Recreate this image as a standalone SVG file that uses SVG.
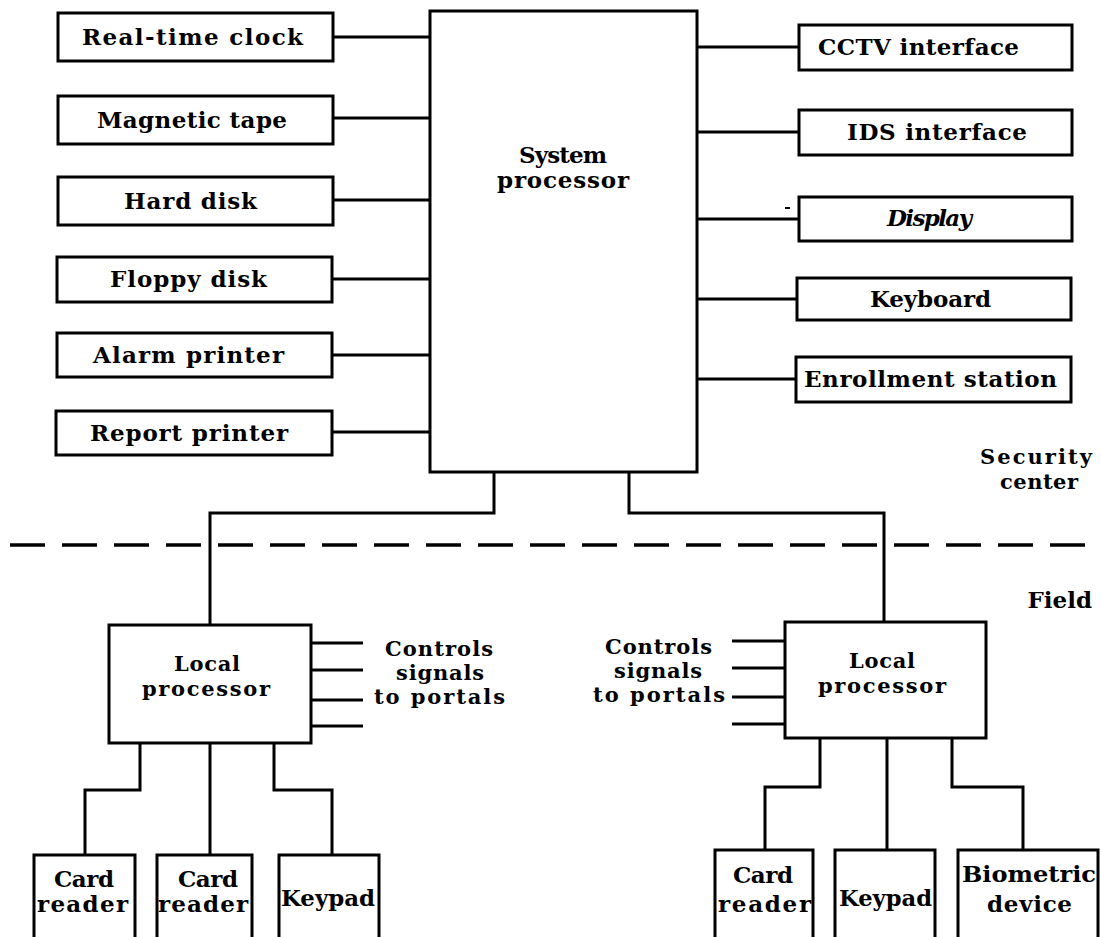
<svg xmlns="http://www.w3.org/2000/svg" width="1101" height="937" viewBox="0 0 1101 937">
<style>
.box{fill:#fff;stroke:#000;stroke-width:3}
.ln{fill:none;stroke:#000;stroke-width:3}
.t{font-family:"DejaVu Serif","Liberation Serif",serif;font-weight:bold;font-size:23px;fill:#000}
.s{font-size:21px}
</style>
<rect width="1101" height="937" fill="#fff"/>
<g id="connectors">
<path class="ln" d="M333 37H430M333 118H430M333 200H430M333 279H430M333 355H430M333 432H430"/>
<path class="ln" d="M697 47H799M697 132H799M697 219H799M697 299H799M697 379H799"/>
<path d="M785 208h5" stroke="#000" stroke-width="2"/>
<path class="ln" d="M494 472V513H210V625M629 472V513H884V622"/>
<path class="ln" d="M311 643H363M311 670H363M311 700H363M311 726H363"/>
<path class="ln" d="M732 641H785M732 668H785M732 697H785M732 724H785"/>
<path class="ln" d="M140 743V790H85V855M210 743V855M274 743V790H332V855"/>
<path class="ln" d="M820 738V787H765V850M887 738V850M952 738V787H1023V850"/>
<line x1="10" y1="545" x2="1101" y2="545" stroke="#000" stroke-width="3.5" stroke-dasharray="35 17"/>
</g>
<g id="system-processor"><rect class="box" x="430" y="11" width="267" height="461"/>
<text class="t" x="519" y="163" textLength="88" lengthAdjust="spacing">System</text><text class="t" x="497" y="188" textLength="132" lengthAdjust="spacing">processor</text></g>
<g id="real-time-clock"><rect class="box" x="58" y="13" width="275" height="48"/><text class="t" x="82" y="45" textLength="221" lengthAdjust="spacing">Real-time clock</text></g>
<g id="magnetic-tape"><rect class="box" x="58" y="96" width="275" height="48"/><text class="t" x="97" y="128" textLength="190" lengthAdjust="spacing">Magnetic tape</text></g>
<g id="hard-disk"><rect class="box" x="58" y="177" width="275" height="48"/><text class="t" x="124" y="209" textLength="133" lengthAdjust="spacing">Hard disk</text></g>
<g id="floppy-disk"><rect class="box" x="57" y="257" width="275" height="45"/><text class="t" x="110" y="287" textLength="157" lengthAdjust="spacing">Floppy disk</text></g>
<g id="alarm-printer"><rect class="box" x="57" y="333" width="275" height="44"/><text class="t" x="93" y="363" textLength="191" lengthAdjust="spacing">Alarm printer</text></g>
<g id="report-printer"><rect class="box" x="56" y="411" width="276" height="44"/><text class="t" x="90" y="441" textLength="198" lengthAdjust="spacing">Report printer</text></g>
<g id="cctv-interface"><rect class="box" x="799" y="25" width="273" height="45"/><text class="t" x="818" y="55" textLength="201" lengthAdjust="spacing">CCTV interface</text></g>
<g id="ids-interface"><rect class="box" x="799" y="110" width="273" height="45"/><text class="t" x="847" y="140" textLength="180" lengthAdjust="spacing">IDS interface</text></g>
<g id="display"><rect class="box" x="799" y="197" width="273" height="44"/><text class="t" x="887" y="226" textLength="85" lengthAdjust="spacing" font-style="italic">Display</text></g>
<g id="keyboard"><rect class="box" x="797" y="278" width="274" height="42"/><text class="t" x="870" y="307" textLength="121" lengthAdjust="spacing">Keyboard</text></g>
<g id="enrollment-station"><rect class="box" x="796" y="357" width="275" height="45"/><text class="t" x="804" y="387" textLength="253" lengthAdjust="spacing">Enrollment station</text></g>
<g id="zone-labels">
<text class="t s" x="980" y="464" textLength="112" lengthAdjust="spacing">Security</text><text class="t s" x="1000" y="489" textLength="78" lengthAdjust="spacing">center</text>
<text class="t" x="1092" y="608" text-anchor="end">Field</text>
</g>
<g id="local-processor-left"><rect class="box" x="109" y="625" width="202" height="118"/>
<text class="t s" x="174" y="671" textLength="66" lengthAdjust="spacing">Local</text><text class="t s" x="142" y="696" textLength="128" lengthAdjust="spacing">processor</text></g>
<g id="controls-left">
<text class="t s" x="385" y="656" textLength="108" lengthAdjust="spacing">Controls</text><text class="t s" x="396" y="680" textLength="88" lengthAdjust="spacing">signals</text><text class="t s" x="374" y="704" textLength="131" lengthAdjust="spacing">to portals</text></g>
<g id="local-processor-right"><rect class="box" x="785" y="622" width="201" height="116"/>
<text class="t s" x="849" y="668" textLength="66" lengthAdjust="spacing">Local</text><text class="t s" x="818" y="693" textLength="128" lengthAdjust="spacing">processor</text></g>
<g id="controls-right">
<text class="t s" x="605" y="654" textLength="107" lengthAdjust="spacing">Controls</text><text class="t s" x="614" y="678" textLength="88" lengthAdjust="spacing">signals</text><text class="t s" x="593" y="702" textLength="132" lengthAdjust="spacing">to portals</text></g>
<g id="card-reader-1"><rect class="box" x="34" y="855" width="101" height="84"/><text class="t" x="54" y="887" textLength="60" lengthAdjust="spacing">Card</text><text class="t" x="37" y="912" textLength="91" lengthAdjust="spacing">reader</text></g>
<g id="card-reader-2"><rect class="box" x="157" y="855" width="95" height="84"/><text class="t" x="178" y="887" textLength="60" lengthAdjust="spacing">Card</text><text class="t" x="158" y="912" textLength="90" lengthAdjust="spacing">reader</text></g>
<g id="keypad-left"><rect class="box" x="279" y="855" width="100" height="84"/><text class="t" x="281" y="906" textLength="94" lengthAdjust="spacingAndGlyphs">Keypad</text></g>
<g id="card-reader-3"><rect class="box" x="715" y="850" width="98" height="89"/><text class="t" x="733" y="883" textLength="60" lengthAdjust="spacing">Card</text><text class="t" x="718" y="912" textLength="93" lengthAdjust="spacing">reader</text></g>
<g id="keypad-right"><rect class="box" x="835" y="850" width="100" height="89"/><text class="t" x="839" y="906" textLength="93" lengthAdjust="spacingAndGlyphs">Keypad</text></g>
<g id="biometric-device"><rect class="box" x="958" y="850" width="140" height="89"/><text class="t" x="962" y="882" textLength="134" lengthAdjust="spacingAndGlyphs">Biometric</text><text class="t" x="987" y="912" textLength="85" lengthAdjust="spacing">device</text></g>
</svg>
